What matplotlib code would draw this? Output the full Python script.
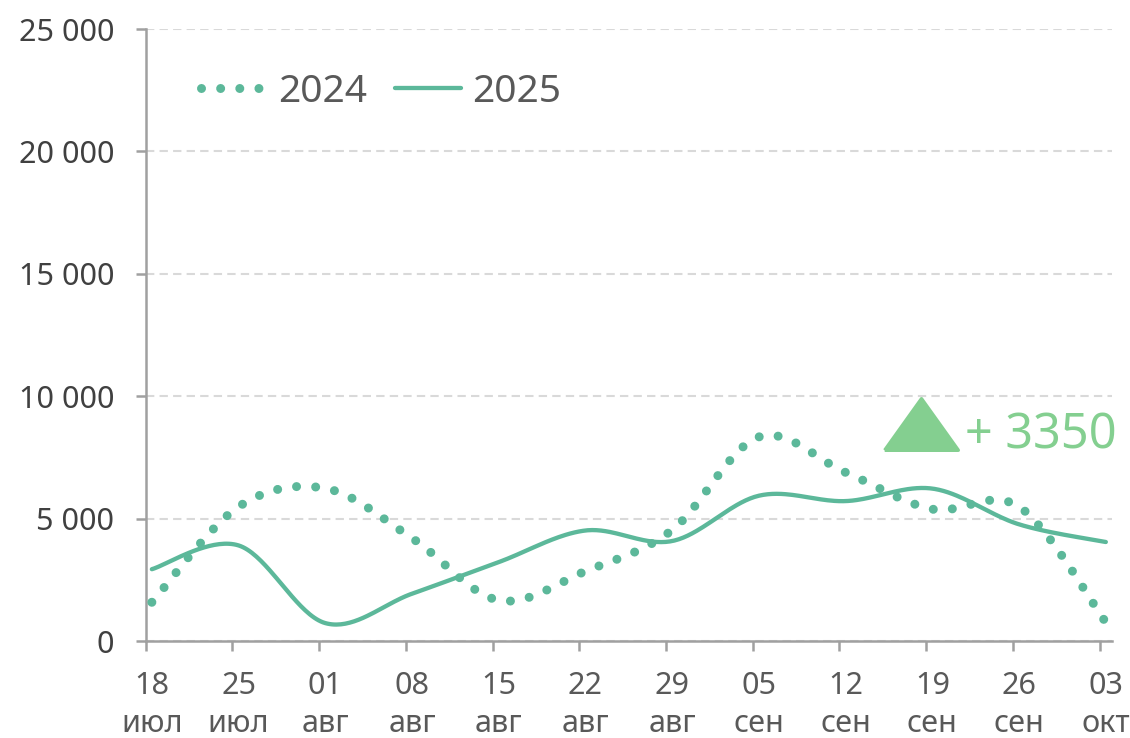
import numpy as np
import matplotlib.pyplot as plt
from matplotlib.ticker import FuncFormatter

plt.rcParams['font.family'] = ['Noto Sans', 'DejaVu Sans']

# данные (по неделям)
days = np.arange(0, 78, 7)  # 18 июл ... 03 окт
tick_days = ['18', '25', '01', '08', '15', '22', '29', '05', '12', '19', '26', '03']
tick_months = ['июл', 'июл', 'авг', 'авг', 'авг', 'авг', 'авг', 'сен', 'сен', 'сен', 'сен', 'окт']
sales_2024 = [1600, 5500, 6250, 4220, 1680, 2870, 4550, 8350, 6900, 5400, 5500, 780]
sales_2025 = [2950, 3920, 750, 1950, 3240, 4530, 4100, 5950, 5730, 6240, 4780, 4060]
delta_text = '+ 3350'

green = '#5cb89a'
light_green = '#84cf90'
axis_gray = '#a0a0a0'


def smooth(x, y, steps=40):
    # сглаживание как в Excel (кривые Безье через точки)
    P = np.column_stack([x, y]).astype(float)
    P = np.vstack([P[:1], P, P[-1:]])
    prev, a, b, nxt = P[:-3], P[1:-2], P[2:-1], P[3:]
    c1 = a + (b - prev) / 6
    c2 = b - (nxt - a) / 6
    t = np.linspace(0, 1, steps)[:, None, None]
    B = ((1 - t) ** 3 * a + 3 * (1 - t) ** 2 * t * c1
         + 3 * (1 - t) * t ** 2 * c2 + t ** 3 * b)
    B = B.transpose(1, 0, 2)[:, :-1, :].reshape(-1, 2)
    B = np.vstack([B, P[-2:-1]])
    return B[:, 0], B[:, 1]


fig = plt.figure(figsize=(11.3, 7.38), dpi=100)
ax = fig.add_axes([0.1289, 0.1308, 0.9841 - 0.1289, 0.9607 - 0.1308])

x_pts = days + 0.5
sx, sy = smooth(x_pts, sales_2024)
ax.plot(sx, sy, color=green, lw=6.5, linestyle=(0, (0.001, 2.12)),
        dash_capstyle='round', label='2024', zorder=3)
sx, sy = smooth(x_pts, sales_2025)
ax.plot(sx, sy, color=green, lw=3.1, solid_capstyle='round',
        solid_joinstyle='round', label='2025', zorder=4)

ax.set_xlim(0, 78)
ax.set_ylim(0, 25000)
ax.set_yticks(np.arange(0, 25001, 5000))
ax.yaxis.set_major_formatter(FuncFormatter(lambda v, p: f'{v:,.0f}'.replace(',', ' ')))

ax.set_xticks(days)
ax.set_xticklabels([])
ax.set_xticks(x_pts, minor=True)
ax.set_xticklabels([f'{d}\n{m}' for d, m in zip(tick_days, tick_months)],
                   minor=True, linespacing=1.38)

ax.tick_params(axis='x', which='major', length=7.2, width=1.8, color=axis_gray)
ax.tick_params(axis='x', which='minor', length=0, pad=21, labelsize=22,
               labelcolor='#595959')
ax.tick_params(axis='y', length=7.2, width=1.8, color=axis_gray, pad=15.5,
               labelsize=22, labelcolor='#404040')

for s in ['top', 'right']:
    ax.spines[s].set_visible(False)
for s in ['left', 'bottom']:
    ax.spines[s].set_color(axis_gray)
    ax.spines[s].set_linewidth(1.8)

ax.grid(axis='y', color='#d9d9d9', lw=1.5, linestyle=(0, (4, 2.5)))
ax.set_axisbelow(True)

leg = ax.legend(loc='center left', bbox_to_anchor=(0.057, 0.8975), ncol=2,
                frameon=False, fontsize=28, handlelength=1.7,
                handletextpad=0.3, columnspacing=0.7, borderpad=0,
                borderaxespad=0)
for t in leg.get_texts():
    t.set_color('#595959')

# отметка прироста
tri = [(-1, -0.7), (1, -0.7), (0, 0.7), (-1, -0.7)]
ax.plot([62.6], [8880], marker=tri, markersize=53, color=light_green,
        markeredgewidth=2.5, markeredgecolor=light_green, linestyle='none',
        zorder=5, clip_on=False)
ax.text(66.1, 7890, delta_text, color=light_green, fontsize=35,
        ha='left', va='baseline', zorder=5)

fig.savefig('out.png', dpi=100)
